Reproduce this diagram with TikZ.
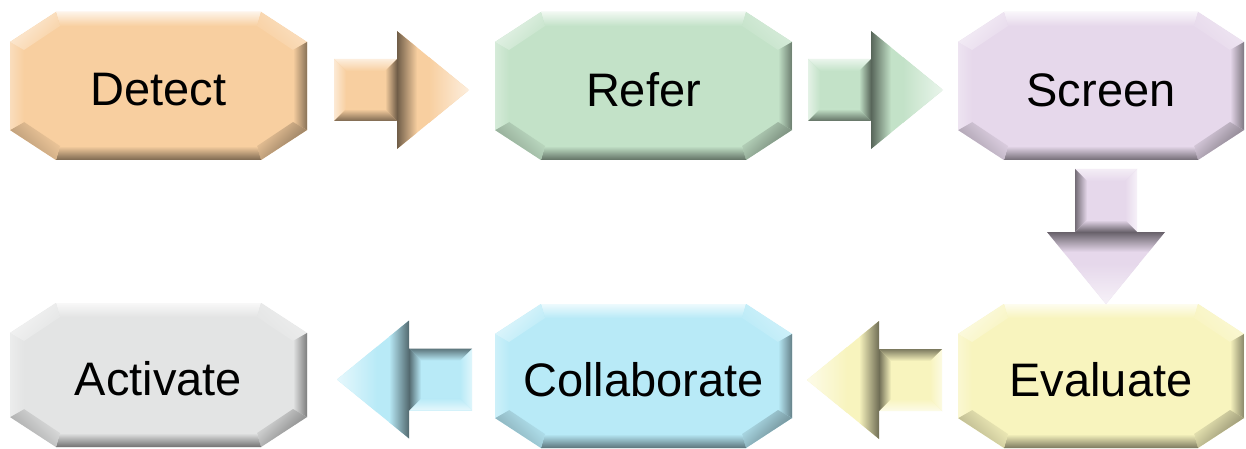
\documentclass[tikz,border=0pt]{standalone}
\usepackage{fontspec}
\setmainfont{Liberation Sans}
\usetikzlibrary{calc}
\definecolor{cDetect}{HTML}{F8CFA0}
\definecolor{cRefer}{HTML}{C3E2C8}
\definecolor{cScreen}{HTML}{E6D8EB}
\definecolor{cEval}{HTML}{F8F4BE}
\definecolor{cCollab}{HTML}{B8EAF7}
\definecolor{cActiv}{HTML}{E3E4E4}
\tikzset{
  boxtext/.style={inner sep=0pt, text=black, font=\fontsize{47}{51}\selectfont},
}
% #1 name, #2 L, #3 T, #4 R, #5 B, #6 colour, #7 text
\newcommand\bevbox[7]{%
  \fill[#6] (#2+46,#3) -- (#4-46,#3) -- (#4,#3+30) -- (#4,#5-30) -- (#4-46,#5) -- (#2+46,#5) -- (#2,#5-30) -- (#2,#3+30) -- cycle;
  \shade[top color=#6!25!white, bottom color=#6, shading angle=0]
    (#2+46,#3) -- (#4-46,#3) -- (#4-50,#3+14) -- (#2+50,#3+14) -- cycle;
  \shade[top color=#6!60!white, bottom color=#6, shading angle=-45]
    (#4-46,#3) -- (#4,#3+30) -- (#4-14,#3+38) -- (#4-50,#3+14) -- cycle;
  \shade[top color=#6!55!black, bottom color=#6, shading angle=-90]
    (#4,#3+30) -- (#4,#5-30) -- (#4-14,#5-38) -- (#4-14,#3+38) -- cycle;
  \shade[top color=#6!50!black, bottom color=#6, shading angle=-135]
    (#4,#5-30) -- (#4-46,#5) -- (#4-50,#5-14) -- (#4-14,#5-38) -- cycle;
  \shade[top color=#6!50!black, bottom color=#6, shading angle=180]
    (#4-46,#5) -- (#2+46,#5) -- (#2+50,#5-14) -- (#4-50,#5-14) -- cycle;
  \shade[top color=#6!70!black, bottom color=#6, shading angle=135]
    (#2+46,#5) -- (#2,#5-30) -- (#2+14,#5-38) -- (#2+50,#5-14) -- cycle;
  \shade[top color=#6!70!white, bottom color=#6, shading angle=90]
    (#2,#5-30) -- (#2,#3+30) -- (#2+14,#3+38) -- (#2+14,#5-38) -- cycle;
  \shade[top color=#6!35!white, bottom color=#6, shading angle=45]
    (#2,#3+30) -- (#2+46,#3) -- (#2+50,#3+14) -- (#2+14,#3+38) -- cycle;
  \node[boxtext, minimum width=#4-#2, minimum height=#5-#3] (#1) at ({(#2+#4)/2},{(#3+#5)/2+4}) {#7};
}
% #1 centre coordinate, #2 rotation, #3 colour
\newcommand\blockarrow[3]{%
  \begin{scope}[transform canvas={shift={(#1)}, rotate=#2}]
    \fill[#3] (-67,-31) rectangle (-4,31);
    \shade[top color=#3!35!white, bottom color=#3, shading angle=0]
      (-67,-31) -- (-4,-31) -- (-16,-19) -- (-55,-19) -- cycle;
    \shade[top color=#3!45!white, bottom color=#3, shading angle=90]
      (-67,-31) -- (-55,-19) -- (-55,19) -- (-67,31) -- cycle;
    \shade[top color=#3!50!black, bottom color=#3, shading angle=180]
      (-67,31) -- (-4,31) -- (-16,19) -- (-55,19) -- cycle;
    \shade[top color=#3!45!black, bottom color=#3, shading angle=-90]
      (-4,-31) -- (-4,31) -- (-16,19) -- (-16,-19) -- cycle;
    \begin{scope}
      \clip (-4,-59) -- (68,0) -- (-4,59) -- cycle;
      \fill[#3] (-4,-59) rectangle (68,59);
      \shade[left color=#3!45!black, right color=#3] (-4,-59) rectangle (16,59);
      \shade[left color=#3, right color=#3!35!white] (28,-59) rectangle (68,59);
    \end{scope}
  \end{scope}
}
\begin{document}
\begin{tikzpicture}[x=1pt, y=-1pt]
  \useasboundingbox (0,0) rectangle (1246,449);
  \fill[white] (0,0) rectangle (1246,449);
  \bevbox{detect}{10}{12}{307}{160}{cDetect}{Detect}
  \bevbox{refer}{495}{12}{792}{160}{cRefer}{Refer}
  \bevbox{screen}{958}{12}{1244}{160}{cScreen}{Screen}
  \bevbox{activate}{10}{303}{307}{447}{cActiv}{Activate}
  \bevbox{collab}{495}{304}{792}{448}{cCollab}{Collaborate}
  \bevbox{evaluate}{958}{304}{1244}{448}{cEval}{Evaluate}
  \coordinate (a1) at ($(detect.east)!0.5!(refer.west)$);
  \coordinate (a2) at ($(refer.east)!0.5!(screen.west)$);
  \coordinate (a3) at ($(screen.south)!0.5!(evaluate.north)+(5,0)$);
  \coordinate (a4) at ($(evaluate.west)!0.5!(collab.east)$);
  \coordinate (a5) at ($(collab.west)!0.5!(activate.east)+(4,0)$);
  \blockarrow{a1}{0}{cDetect}
  \blockarrow{a2}{0}{cRefer}
  \blockarrow{a3}{-90}{cScreen}
  \blockarrow{a4}{180}{cEval}
  \blockarrow{a5}{180}{cCollab}
\end{tikzpicture}
\end{document}
